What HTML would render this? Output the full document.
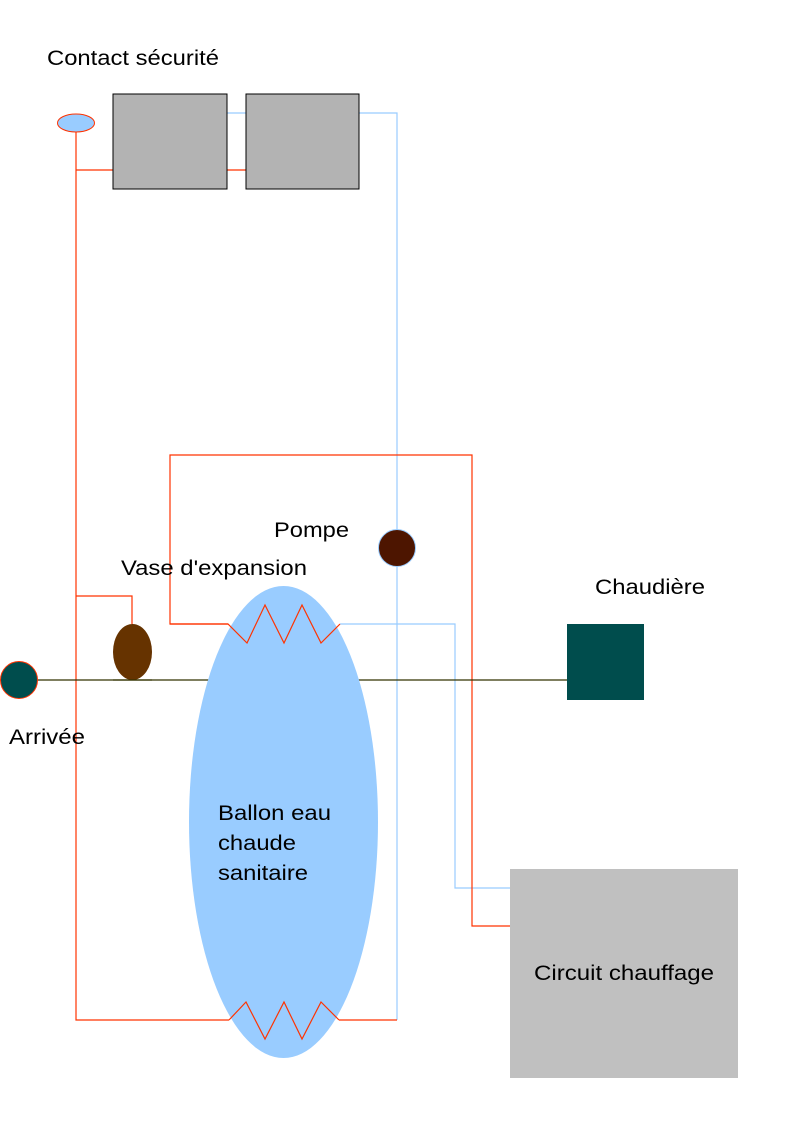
<!DOCTYPE html>
<html><head><meta charset="utf-8"><style>html,body{margin:0;padding:0;background:#fff}svg{display:block}</style></head>
<body>
<svg width="794" height="1123" viewBox="0 0 794 1123" xmlns="http://www.w3.org/2000/svg" font-family="Liberation Sans, sans-serif" font-size="21">
<rect width="794" height="1123" fill="#fff"/>
<g fill="none" stroke="#99ccff" stroke-width="1.2">
<polyline points="227,113 246,113"/>
<polyline points="359,113 397,113 397,1020"/>
<polyline points="340,624 455,624 455,888 510,888"/>
</g>
<g fill="none" stroke="#ff3300" stroke-width="1.2">
<polyline points="76,132 76,1020 229,1020"/>
<polyline points="76,170 113,170"/>
<polyline points="227,170 246,170"/>
<polyline points="76,596 132,596 132,624"/>
<polyline points="228,624 170,624 170,455 472,455 472,926 510,926"/>
<polyline points="339,1020 397,1020"/>
</g>
<line x1="0" y1="680" x2="567" y2="680" stroke="#333300" stroke-width="1.2"/>
<ellipse cx="283.5" cy="822" rx="94.5" ry="236" fill="#99ccff"/>
<polyline fill="none" stroke="#ff3300" stroke-width="1.2" points="170,624 228,624 247,643 265,605 284,643 302,605 321,643 340,624"/>
<polyline fill="none" stroke="#ff3300" stroke-width="1.2" points="229,1020 246,1002 265,1039 284,1002 302,1039 321,1002 339,1020"/>
<rect x="113" y="94" width="114" height="95" fill="#b3b3b3" stroke="#000" stroke-width="1"/>
<rect x="246" y="94" width="113" height="95" fill="#b3b3b3" stroke="#000" stroke-width="1"/>
<ellipse cx="76" cy="123" rx="18.5" ry="9" fill="#99ccff" stroke="#ff3300" stroke-width="1"/>
<circle cx="19" cy="680" r="18.5" fill="#004d4d" stroke="#ff3300" stroke-width="1"/>
<ellipse cx="132.5" cy="652" rx="19.5" ry="28" fill="#663300"/>
<line x1="113" y1="680" x2="152" y2="680" stroke="#333300" stroke-width="1.2"/>
<circle cx="397" cy="548" r="18.5" fill="#4d1500" stroke="#99ccff" stroke-width="1"/>
<rect x="567" y="624" width="77" height="76" fill="#004d4d"/>
<rect x="510" y="869" width="228" height="209" fill="#c0c0c0"/>
<g fill="#000" lengthAdjust="spacingAndGlyphs">
<text x="47" y="65" textLength="172" lengthAdjust="spacingAndGlyphs">Contact sécurité</text>
<text x="274" y="537" textLength="75" lengthAdjust="spacingAndGlyphs">Pompe</text>
<text x="121" y="575" textLength="186" lengthAdjust="spacingAndGlyphs">Vase d'expansion</text>
<text x="595" y="594" textLength="110" lengthAdjust="spacingAndGlyphs">Chaudière</text>
<text x="9" y="744" textLength="76" lengthAdjust="spacingAndGlyphs">Arrivée</text>
<text x="218" y="820" textLength="113" lengthAdjust="spacingAndGlyphs">Ballon eau</text>
<text x="218" y="850" textLength="78" lengthAdjust="spacingAndGlyphs">chaude</text>
<text x="218" y="880" textLength="90" lengthAdjust="spacingAndGlyphs">sanitaire</text>
<text x="534" y="980" textLength="180" lengthAdjust="spacingAndGlyphs">Circuit chauffage</text>
</g>
</svg>
</body></html>
